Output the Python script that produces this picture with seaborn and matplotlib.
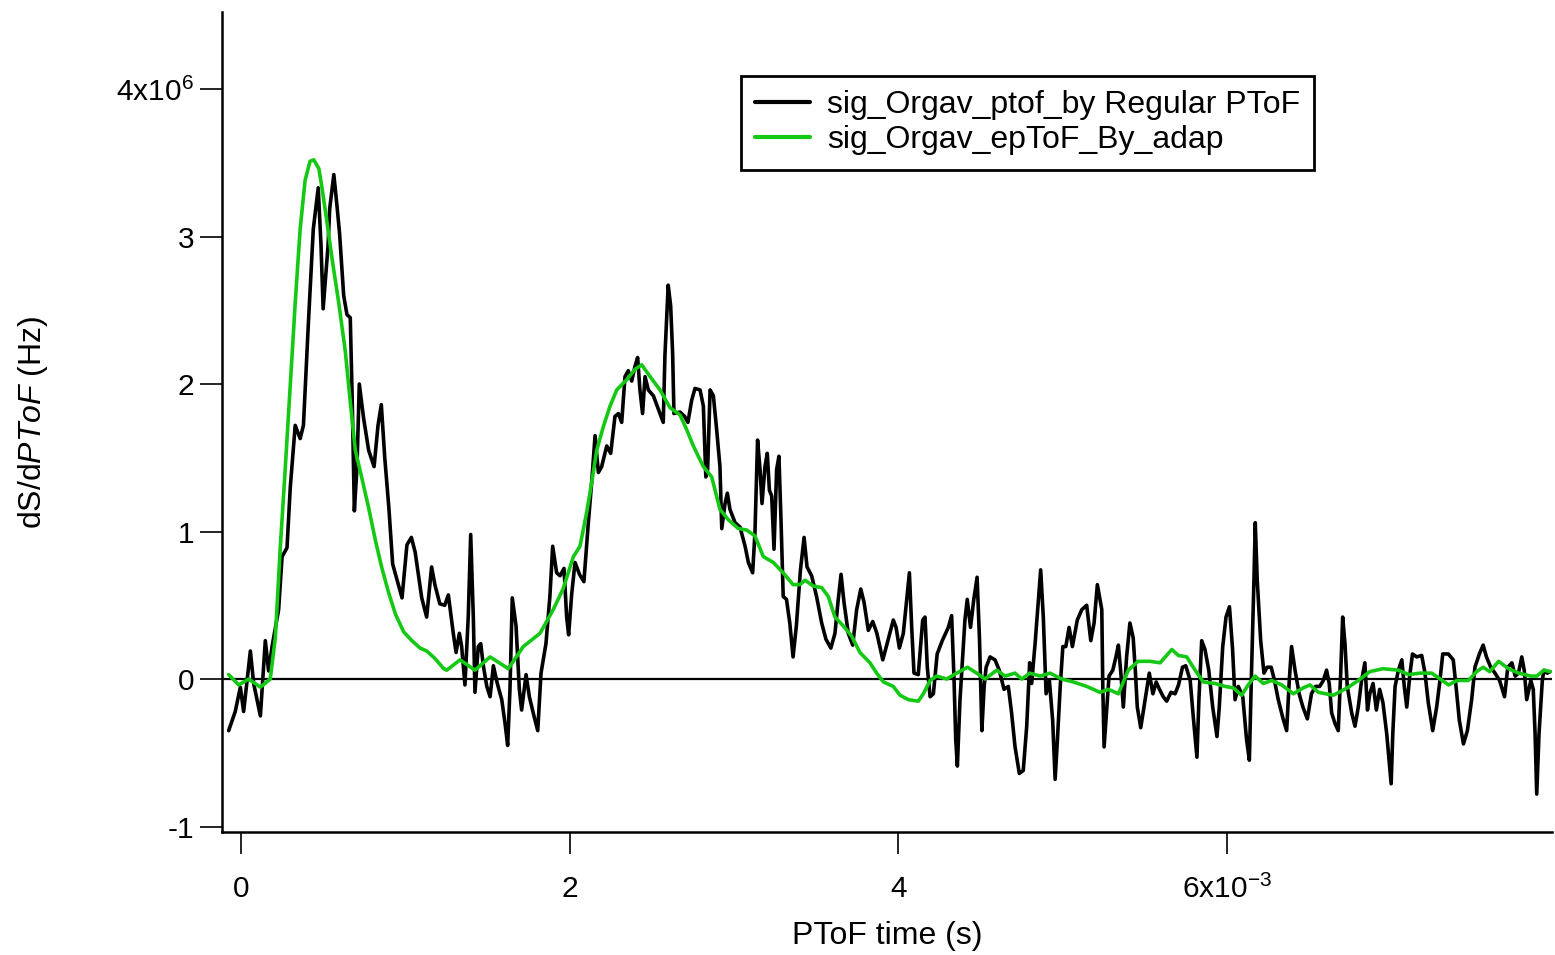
import matplotlib
matplotlib.use("Agg")
import matplotlib.pyplot as plt
import numpy as np
import pandas as pd
import seaborn as sns

# ---- data (time in ms, signal in 1e6 Hz) ----
time_regular_ms = [
    -0.075, -0.035, -0.004, 0.016, 0.057, 0.077, 0.118, 0.148, 0.168, 0.189,
    0.229, 0.25, 0.28, 0.30, 0.33, 0.36, 0.38, 0.41, 0.44, 0.47,
    0.487, 0.50, 0.53, 0.54, 0.565, 0.584, 0.60, 0.625, 0.645, 0.665,
    0.676, 0.69, 0.706, 0.72, 0.746, 0.777, 0.81, 0.834, 0.854, 0.875,
    0.90, 0.923, 0.95, 0.98, 1.01, 1.037, 1.06, 1.10, 1.13, 1.16,
    1.18, 1.21, 1.24,
    1.262, 1.292, 1.309, 1.329, 1.343, 1.363, 1.383, 1.398, 1.414, 1.424,
    1.444, 1.459, 1.475, 1.496, 1.516, 1.536, 1.56, 1.587, 1.607, 1.623,
    1.637, 1.651, 1.674, 1.694, 1.708, 1.735, 1.755, 1.783, 1.806, 1.826,
    1.856, 1.88, 1.897, 1.921, 1.942, 1.966, 1.982, 1.994, 2.013, 2.033,
    2.06, 2.087, 2.114, 2.134, 2.155, 2.175, 2.195, 2.226, 2.25, 2.276,
    2.297, 2.317, 2.337, 2.357, 2.378, 2.398, 2.414, 2.428, 2.444, 2.459,
    2.479, 2.51, 2.54, 2.57,
    2.58, 2.60, 2.615, 2.627, 2.635, 2.672, 2.70, 2.72, 2.743, 2.763,
    2.794, 2.814, 2.829, 2.84, 2.855, 2.875, 2.895, 2.915, 2.926, 2.946,
    2.96, 2.976, 3.007, 3.037, 3.068, 3.088, 3.114, 3.128, 3.144, 3.159,
    3.171, 3.189, 3.203, 3.216, 3.23, 3.244, 3.26, 3.274, 3.287, 3.30,
    3.32, 3.34, 3.36, 3.38, 3.405, 3.427, 3.445, 3.473, 3.503, 3.534,
    3.56, 3.59, 3.615, 3.635, 3.652, 3.67, 3.696, 3.723, 3.747, 3.772,
    3.792, 3.818, 3.845, 3.87, 3.906, 3.93,
    3.97, 3.987, 4.007, 4.031, 4.052, 4.068, 4.082, 4.096, 4.122, 4.149,
    4.163, 4.177, 4.194, 4.214, 4.237, 4.268, 4.305, 4.325, 4.339, 4.35,
    4.36, 4.376, 4.392, 4.406, 4.42, 4.44, 4.46, 4.48, 4.495, 4.509,
    4.523, 4.535, 4.559, 4.589, 4.615, 4.644, 4.67, 4.69, 4.711, 4.737,
    4.761, 4.782, 4.80, 4.812, 4.833, 4.853, 4.867, 4.883, 4.90, 4.92,
    4.94, 4.955, 4.969, 4.986, 5.002, 5.02, 5.04, 5.06, 5.09, 5.117,
    5.147, 5.172, 5.192, 5.212,
    5.239, 5.245, 5.253, 5.27, 5.283, 5.306, 5.325, 5.34, 5.355, 5.37,
    5.39, 5.41, 5.43, 5.444, 5.455, 5.476, 5.50, 5.528, 5.55, 5.57,
    5.59, 5.613, 5.634, 5.66, 5.685, 5.706, 5.73, 5.75, 5.777, 5.796,
    5.818, 5.83, 5.847, 5.867, 5.89, 5.914, 5.94, 5.954, 5.975, 5.995,
    6.016, 6.035, 6.05, 6.07, 6.097, 6.12, 6.137, 6.15, 6.165, 6.173,
    6.185, 6.206, 6.226, 6.245, 6.27, 6.29, 6.313, 6.34, 6.364, 6.38,
    6.394, 6.415, 6.44, 6.463, 6.49, 6.515, 6.54, 6.565,
    6.587, 6.607, 6.623, 6.638, 6.658, 6.678, 6.693, 6.705, 6.719, 6.733,
    6.76, 6.78, 6.80, 6.82, 6.84, 6.856, 6.87, 6.89, 6.91, 6.93,
    6.95, 6.973, 6.987, 7.00, 7.01, 7.024, 7.044, 7.065, 7.08, 7.095,
    7.115, 7.13, 7.156, 7.186, 7.206, 7.226, 7.253, 7.277, 7.297, 7.314,
    7.348, 7.378, 7.395, 7.415, 7.44, 7.464, 7.49, 7.51, 7.537, 7.56,
    7.58, 7.606, 7.632, 7.66, 7.69, 7.71, 7.735, 7.755, 7.775, 7.795,
    7.81, 7.825, 7.85, 7.865, 7.876, 7.886, 7.90, 7.92, 7.93, 7.95,
    7.967,
]
signal_regular = [
    -0.35, -0.22, -0.055, -0.22, 0.19, -0.03, -0.25, 0.26, 0.055, 0.22,
    0.47, 0.83, 0.89, 1.30, 1.72, 1.63, 1.72, 2.41, 3.05, 3.33,
    2.94, 2.51, 2.94, 3.19, 3.42, 3.21, 3.02, 2.60, 2.47, 2.45,
    1.94, 1.14, 1.44, 2.0, 1.77, 1.55, 1.44, 1.72, 1.86, 1.50,
    1.16, 0.78, 0.67, 0.55, 0.91, 0.96, 0.86, 0.55, 0.42, 0.76,
    0.64, 0.51, 0.50,
    0.57, 0.31, 0.18, 0.31, 0.22, -0.04, 0.42, 0.98, 0.42, -0.09,
    0.22, 0.24, 0.09, -0.05, -0.12, 0.09, -0.03, -0.14, -0.30, -0.45,
    -0.07, 0.55, 0.36, -0.07, -0.21, 0.03, -0.12, -0.25, -0.35, 0.04,
    0.24, 0.56, 0.90, 0.72, 0.70, 0.75, 0.42, 0.30, 0.58, 0.79,
    0.71, 0.66, 1.06, 1.33, 1.65, 1.40, 1.44, 1.58, 1.53, 1.78,
    1.80, 1.74, 2.05, 2.09, 2.02, 2.12, 2.18, 1.96, 1.80, 2.05,
    1.96, 1.92, 1.83, 1.74,
    2.19, 2.67, 2.53, 2.21, 1.80, 1.81, 1.78, 1.74, 1.89, 1.97,
    1.96, 1.85, 1.37, 1.42, 1.96, 1.92, 1.69, 1.44, 1.02, 1.19,
    1.26, 1.15, 1.06, 1.03, 0.90, 0.79, 0.72, 0.99, 1.62, 1.42,
    1.19, 1.44, 1.53, 1.28, 1.24, 0.88, 1.42, 1.51, 1.06, 0.56,
    0.54, 0.38, 0.15, 0.36, 0.74, 0.96, 0.76, 0.70, 0.56, 0.38,
    0.27, 0.21, 0.31, 0.54, 0.71, 0.52, 0.31, 0.23, 0.47, 0.61,
    0.52, 0.33, 0.39, 0.31, 0.13, 0.23,
    0.40, 0.35, 0.21, 0.31, 0.54, 0.72, 0.35, 0.04, 0.03, 0.40,
    0.42, 0.08, -0.12, -0.10, 0.17, 0.26, 0.35, 0.43, 0.02, -0.41,
    -0.59, -0.14, 0.15, 0.40, 0.54, 0.35, 0.54, 0.69, 0.26, -0.35,
    -0.05, 0.08, 0.15, 0.13, 0.06, -0.07, -0.05, -0.23, -0.46, -0.64,
    -0.62, -0.32, 0.11, -0.03, 0.24, 0.54, 0.74, 0.42, -0.10, -0.01,
    -0.28, -0.68, -0.41, -0.05, 0.22, 0.22, 0.35, 0.22, 0.40, 0.47,
    0.50, 0.26, 0.38, 0.64,
    0.47, -0.05, -0.46, -0.19, 0.02, 0.06, 0.15, 0.23, 0.04, -0.19,
    0.15, 0.38, 0.28, 0.04, -0.19, -0.33, -0.16, 0.04, -0.10, -0.02,
    -0.07, -0.12, -0.15, -0.09, -0.10, -0.04, 0.08, 0.09, -0.01, -0.26,
    -0.53, -0.14, 0.26, 0.20, 0.06, -0.19, -0.39, -0.19, 0.22, 0.42,
    0.49, 0.20, -0.14, -0.05, -0.12, -0.41, -0.55, 0.04, 0.67, 1.06,
    0.67, 0.26, 0.04, 0.08, 0.08, -0.01, -0.14, -0.26, -0.35, -0.01,
    0.22, 0.06, -0.10, -0.19, -0.27, -0.10, -0.05, -0.05,
    -0.01, 0.06, -0.03, -0.23, -0.30, -0.35, 0.04, 0.42, 0.24, -0.05,
    -0.23, -0.32, -0.19, -0.01, 0.11, -0.21, -0.10, -0.03, -0.21, -0.07,
    -0.16, -0.37, -0.55, -0.71, -0.37, -0.05, 0.06, 0.13, -0.05, -0.19,
    0.04, 0.17, 0.15, 0.16, 0.04, -0.16, -0.35, -0.19, -0.01, 0.17,
    0.17, 0.13, -0.05, -0.28, -0.44, -0.35, -0.14, 0.08, 0.17, 0.23,
    0.15, 0.08, 0.04, -0.01, -0.12, 0.08, 0.11, 0.02, 0.04, 0.15,
    0.06, -0.14, -0.01, -0.07, -0.37, -0.78, -0.37, -0.01, 0.06, 0.04,
    0.05,
]

time_adaptive_ms = [
    -0.075, -0.014, 0.047, 0.118, 0.178, 0.209, 0.239, 0.27, 0.30, 0.33,
    0.36, 0.39, 0.42, 0.443, 0.474, 0.493, 0.523, 0.554, 0.595, 0.635,
    0.665, 0.696, 0.736, 0.777, 0.818, 0.858, 0.90, 0.94, 0.99, 1.04,
    1.09, 1.13, 1.18, 1.234,
    1.252, 1.333, 1.424, 1.516, 1.627, 1.718, 1.82, 1.90, 1.96, 2.023,
    2.063, 2.104, 2.134, 2.165, 2.205, 2.246, 2.287, 2.348, 2.398, 2.439,
    2.49, 2.55,
    2.611, 2.672, 2.713, 2.753, 2.814, 2.865, 2.915, 2.966, 3.027, 3.078,
    3.128, 3.179, 3.24, 3.30, 3.36, 3.402, 3.433, 3.483, 3.534, 3.574,
    3.615, 3.666, 3.717, 3.767, 3.828, 3.869, 3.91,
    3.97, 4.011, 4.062, 4.122, 4.153, 4.194, 4.234, 4.295, 4.356, 4.421,
    4.478, 4.528, 4.60, 4.65, 4.711, 4.752, 4.80, 4.863, 4.924, 4.995,
    5.066, 5.147, 5.228,
    5.28, 5.34, 5.40, 5.46, 5.533, 5.594, 5.665, 5.705, 5.756, 5.807,
    5.857, 5.928, 5.989, 6.04, 6.09, 6.13, 6.172, 6.222, 6.273, 6.334,
    6.405, 6.465, 6.506, 6.557,
    6.648, 6.733, 6.80, 6.87, 6.95, 7.045, 7.106, 7.176, 7.247, 7.298,
    7.35, 7.40, 7.47, 7.52, 7.56, 7.60, 7.654, 7.715, 7.776, 7.85,
    7.886, 7.93, 7.97,
]
signal_adaptive = [
    0.03, -0.04, 0.0, -0.055, 0.0, 0.28, 0.89, 1.44, 2.0, 2.55,
    3.05, 3.38, 3.51, 3.52, 3.46, 3.33, 3.10, 2.85, 2.55, 2.22,
    1.88, 1.55, 1.36, 1.16, 0.94, 0.75, 0.58, 0.44, 0.32, 0.26,
    0.21, 0.19, 0.14, 0.07,
    0.06, 0.13, 0.06, 0.15, 0.07, 0.22, 0.31, 0.47, 0.61, 0.83,
    0.90, 1.13, 1.33, 1.55, 1.71, 1.85, 1.96, 2.03, 2.10, 2.13,
    2.05, 1.96,
    1.84, 1.79, 1.69, 1.58, 1.44, 1.37, 1.15, 1.08, 1.02, 1.01,
    0.97, 0.83, 0.79, 0.72, 0.64, 0.64, 0.67, 0.63, 0.62, 0.56,
    0.42, 0.36, 0.29, 0.18, 0.11, 0.04, -0.02,
    -0.05, -0.11, -0.14, -0.15, -0.10, -0.01, 0.02, 0.0, 0.04, 0.08,
    0.04, 0.0, 0.06, 0.02, 0.04, 0.0, 0.04, 0.02, 0.04, 0.0,
    -0.02, -0.05, -0.09,
    -0.07, -0.10, 0.06, 0.12, 0.12, 0.11, 0.20, 0.16, 0.15, 0.06,
    -0.02, -0.03, -0.05, -0.06, -0.11, -0.04, 0.02, -0.03, -0.01, -0.04,
    -0.10, -0.06, -0.04, -0.09,
    -0.11, -0.06, -0.01, 0.05, 0.07, 0.06, 0.03, 0.04, 0.04, 0.0,
    -0.04, -0.01, -0.01, 0.05, 0.08, 0.05, 0.12, 0.07, 0.04, 0.02,
    0.02, 0.06, 0.05,
]

series_labels = ["sig_Orgav_ptof_by Regular PToF", "sig_Orgav_epToF_By_adap"]
x_ticks = [0, 2, 4, 6]
x_tick_labels = ["0", "2", "4", r"6x10$^{-3}$"]
y_ticks = [-1, 0, 1, 2, 3, 4]
y_tick_labels = ["-1", "0", "1", "2", "3", r"4x10$^{6}$"]

# ---- style ----
sns.set_style("ticks")
plt.rcParams["font.family"] = ["Liberation Sans", "DejaVu Sans"]
plt.rcParams["mathtext.fontset"] = "custom"
plt.rcParams["mathtext.rm"] = "Liberation Sans"
plt.rcParams["mathtext.it"] = "Liberation Sans:italic"
plt.rcParams["mathtext.bf"] = "Liberation Sans:bold"
plt.rcParams["mathtext.default"] = "regular"
plt.rcParams["text.color"] = "black"
plt.rcParams["axes.labelcolor"] = "black"
plt.rcParams["legend.labelcolor"] = "black"

fig = plt.figure(figsize=(15.55, 9.55), dpi=100)
ax = fig.add_axes([222 / 1555, 1 - 832 / 955, 1330 / 1555, 820 / 955])

df_reg = pd.DataFrame({"t": time_regular_ms, "s": signal_regular})
df_ad = pd.DataFrame({"t": time_adaptive_ms, "s": signal_adaptive})

ax.axhline(0, color="black", lw=1.6, zorder=1)
sns.lineplot(data=df_reg, x="t", y="s", ax=ax, color="black", lw=2.6,
             sort=False, estimator=None, label=series_labels[0], zorder=2)
sns.lineplot(data=df_ad, x="t", y="s", ax=ax, color="#14c814", lw=2.6,
             sort=False, estimator=None, label=series_labels[1], zorder=3)

ax.set_xlim(-0.1156, 7.979)
ax.set_ylim(-1.037, 4.522)

ax.set_xticks(x_ticks)
ax.set_xticklabels(x_tick_labels)
ax.set_yticks(y_ticks)
ax.set_yticklabels(y_tick_labels)

for side in ["top", "right"]:
    ax.spines[side].set_visible(False)
for side in ["left", "bottom"]:
    ax.spines[side].set_linewidth(1.8)
    ax.spines[side].set_color("black")

ax.tick_params(axis="both", direction="out", length=16, width=1.2,
               labelsize=21.5, color="black", labelcolor="black")
ax.tick_params(axis="x", pad=15)
ax.tick_params(axis="y", pad=4)

ax.set_xlabel("PToF time (s)", fontsize=23, labelpad=12, color="black")
ax.set_ylabel(r"dS/d$\mathit{PToF}$ (Hz)", fontsize=23, labelpad=48, color="black")

leg = ax.legend(loc="upper left", bbox_to_anchor=(0.390, 0.922),
                fontsize=23, frameon=True, fancybox=False, edgecolor="black",
                framealpha=1, handlelength=1.72, handletextpad=0.53,
                borderpad=0.45, labelspacing=0.15, borderaxespad=0)
leg.get_frame().set_linewidth(2)
for line in leg.get_lines():
    line.set_linewidth(3)
for txt in leg.get_texts():
    txt.set_color("black")

fig.savefig("out.png", dpi=100)
